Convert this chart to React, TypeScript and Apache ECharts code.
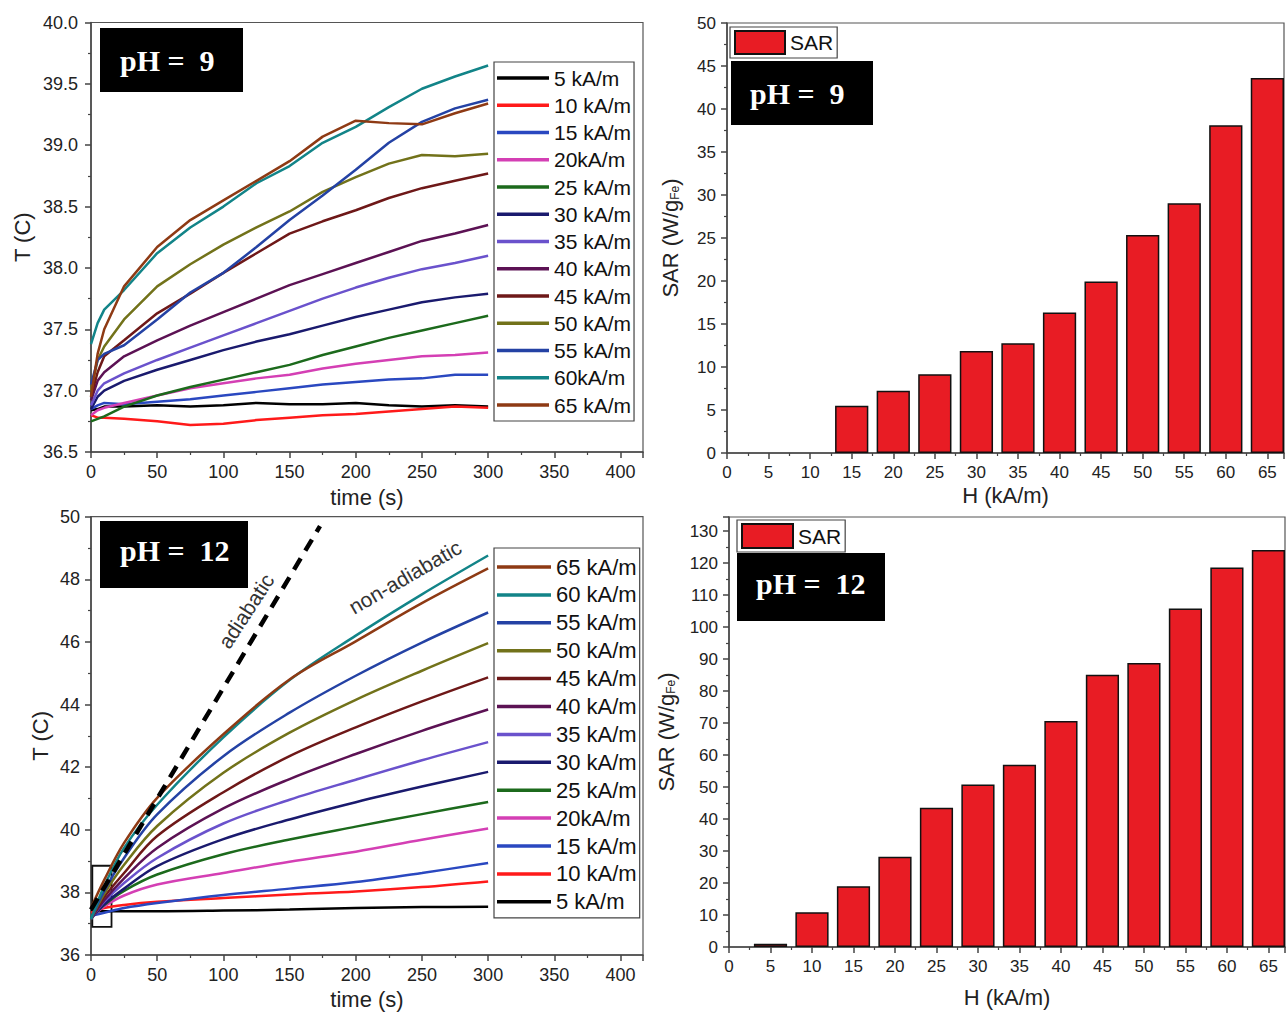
import React, { useEffect, useRef } from 'react';
import * as echarts from 'echarts';

// ---------- pH = 9 : temperature vs time ----------
const TIME_PH9 = [0, 5, 10, 25, 50, 75, 100, 125, 150, 175, 200, 225, 250, 275, 300];
const NAMES_PH9 = ['5 kA/m', '10 kA/m', '15 kA/m', '20kA/m', '25 kA/m', '30 kA/m', '35 kA/m', '40 kA/m', '45 kA/m', '50 kA/m', '55 kA/m', '60kA/m', '65 kA/m'];
const PH9_05 = [36.84, 36.85, 36.87, 36.87, 36.88, 36.87, 36.88, 36.90, 36.89, 36.89, 36.90, 36.88, 36.87, 36.88, 36.87];
const PH9_10 = [36.80, 36.78, 36.78, 36.77, 36.75, 36.72, 36.73, 36.76, 36.78, 36.80, 36.81, 36.83, 36.85, 36.87, 36.86];
const PH9_15 = [36.85, 36.88, 36.90, 36.89, 36.91, 36.93, 36.96, 36.99, 37.02, 37.05, 37.07, 37.09, 37.10, 37.13, 37.13];
const PH9_20 = [36.80, 36.84, 36.86, 36.90, 36.96, 37.02, 37.06, 37.10, 37.13, 37.18, 37.22, 37.25, 37.28, 37.29, 37.31];
const PH9_25 = [36.75, 36.77, 36.79, 36.87, 36.96, 37.03, 37.09, 37.15, 37.21, 37.29, 37.36, 37.43, 37.49, 37.55, 37.61];
const PH9_30 = [36.85, 36.95, 37.00, 37.08, 37.17, 37.25, 37.33, 37.40, 37.46, 37.53, 37.60, 37.66, 37.72, 37.76, 37.79];
const PH9_35 = [36.88, 37.00, 37.06, 37.14, 37.25, 37.35, 37.45, 37.55, 37.65, 37.75, 37.84, 37.92, 37.99, 38.04, 38.10];
const PH9_40 = [36.92, 37.08, 37.15, 37.28, 37.41, 37.53, 37.64, 37.75, 37.86, 37.95, 38.04, 38.13, 38.22, 38.28, 38.35];
const PH9_45 = [36.95, 37.15, 37.28, 37.41, 37.63, 37.79, 37.96, 38.12, 38.28, 38.38, 38.47, 38.57, 38.65, 38.71, 38.77];
const PH9_50 = [37.00, 37.25, 37.36, 37.58, 37.85, 38.03, 38.19, 38.33, 38.46, 38.62, 38.74, 38.85, 38.92, 38.91, 38.93];
const PH9_55 = [37.05, 37.25, 37.30, 37.37, 37.58, 37.80, 37.96, 38.17, 38.39, 38.59, 38.80, 39.02, 39.19, 39.30, 39.37];
const PH9_60 = [37.38, 37.55, 37.66, 37.82, 38.12, 38.33, 38.50, 38.69, 38.83, 39.02, 39.15, 39.31, 39.46, 39.56, 39.65];
const PH9_65 = [36.95, 37.30, 37.50, 37.85, 38.17, 38.39, 38.55, 38.71, 38.87, 39.07, 39.20, 39.18, 39.17, 39.26, 39.34];
const VALUES_PH9 = [PH9_05, PH9_10, PH9_15, PH9_20, PH9_25, PH9_30, PH9_35, PH9_40, PH9_45, PH9_50, PH9_55, PH9_60, PH9_65];

// ---------- pH = 12 : temperature vs time ----------
const TIME_PH12 = [0, 10, 25, 50, 100, 150, 200, 250, 300];
const NAMES_PH12 = ['5 kA/m', '10 kA/m', '15 kA/m', '20kA/m', '25 kA/m', '30 kA/m', '35 kA/m', '40 kA/m', '45 kA/m', '50 kA/m', '55 kA/m', '60 kA/m', '65 kA/m'];
const PH12_05 = [37.40, 37.40, 37.40, 37.40, 37.42, 37.45, 37.50, 37.53, 37.54];
const PH12_10 = [37.35, 37.50, 37.60, 37.70, 37.82, 37.93, 38.03, 38.17, 38.35];
const PH12_15 = [37.25, 37.35, 37.50, 37.66, 37.92, 38.12, 38.33, 38.62, 38.94];
const PH12_20 = [37.20, 37.55, 37.90, 38.25, 38.62, 38.98, 39.30, 39.68, 40.04];
const PH12_25 = [37.20, 37.60, 38.05, 38.57, 39.22, 39.69, 40.10, 40.50, 40.89];
const PH12_30 = [37.15, 37.62, 38.12, 38.84, 39.70, 40.33, 40.88, 41.38, 41.85];
const PH12_35 = [37.15, 37.70, 38.30, 39.10, 40.20, 40.96, 41.60, 42.22, 42.80];
const PH12_40 = [37.15, 37.75, 38.45, 39.42, 40.68, 41.62, 42.42, 43.16, 43.84];
const PH12_45 = [37.15, 37.85, 38.62, 39.80, 41.20, 42.35, 43.27, 44.10, 44.87];
const PH12_50 = [37.15, 37.95, 38.88, 40.12, 41.82, 43.10, 44.15, 45.08, 45.96];
const PH12_55 = [37.15, 38.05, 39.10, 40.49, 42.35, 43.74, 44.92, 45.98, 46.94];
const PH12_60 = [37.15, 38.20, 39.42, 40.80, 42.95, 44.78, 46.20, 47.52, 48.76];
const PH12_65 = [37.50, 38.40, 39.58, 41.02, 43.05, 44.80, 46.02, 47.24, 48.35];
const VALUES_PH12 = [PH12_05, PH12_10, PH12_15, PH12_20, PH12_25, PH12_30, PH12_35, PH12_40, PH12_45, PH12_50, PH12_55, PH12_60, PH12_65];

// adiabatic reference line (time, T) and zoom box corners
const ADIABATIC_TIME = [0, 173];
const ADIABATIC_T = [37.45, 49.7];
const ZOOM_BOX = [[1, 36.9], [15.5, 38.85]];

// ---------- SAR bars ----------
const SAR_H_PH9 = [15, 20, 25, 30, 35, 40, 45, 50, 55, 60, 65];
const SAR_PH9 = [5.5, 7.25, 9.15, 11.85, 12.75, 16.35, 19.95, 25.35, 29.05, 38.1, 43.6];
const SAR_H_PH12 = [5, 10, 15, 20, 25, 30, 35, 40, 45, 50, 55, 60, 65];
const SAR_PH12 = [1.0, 10.9, 19.0, 28.2, 43.5, 50.8, 57.0, 70.6, 85.1, 88.8, 105.8, 118.6, 124.1];

const COLORS = ['#000000', '#ff1a1a', '#2a48c0', '#d43fb4', '#1c6a1c', '#1a1a6e', '#6a52cc', '#5c1254', '#6e1818', '#72721a', '#2442a4', '#128488', '#8e3a14'];

const FONT = '"Liberation Sans", Arial, sans-serif';
const TXT = '#222';

function valueAxis(gridIndex: number, min: number, max: number, interval: number, hideMax: boolean, fontSize: number, extra: any = {}) {
  return {
    type: 'value',
    gridIndex,
    min,
    max,
    interval,
    splitLine: { show: false },
    axisLine: { show: true, onZero: false, lineStyle: { color: '#444', width: 1.5 } },
    axisTick: { show: true, inside: false, length: 6, lineStyle: { color: '#444', width: 1.5 } },
    minorTick: { show: true, splitNumber: 2, length: 3, lineStyle: { color: '#444', width: 1.2 } },
    axisLabel: { color: TXT, fontSize, fontFamily: FONT, margin: 11, showMaxLabel: !hideMax, hideOverlap: false },
    nameTextStyle: { color: TXT, fontSize: 22, fontFamily: FONT },
    nameLocation: 'middle',
    ...extra,
  };
}

const SUB_RICH = { sub: { fontSize: 12, fontFamily: FONT, color: TXT, verticalAlign: 'bottom', padding: [10, 0, 0, 0] } };

export default function App() {
  const ref = useRef<HTMLDivElement>(null);

  useEffect(() => {
    if (!ref.current) return;
    const chart = echarts.init(ref.current, undefined, { renderer: 'svg' });

    const grids = [
      { left: 91, top: 22.5, width: 552, height: 429.5 },
      { left: 727, top: 23, width: 557, height: 430 },
      { left: 91, top: 516.7, width: 552, height: 438.3 },
      { left: 729, top: 517, width: 556, height: 430 },
    ].map((g) => ({ ...g, show: true, borderColor: '#555', borderWidth: 1.2, backgroundColor: 'transparent' }));

    const lineSeries9 = NAMES_PH9.map((name, i) => ({
      name,
      type: 'line',
      xAxisIndex: 0,
      yAxisIndex: 0,
      symbol: 'none',
      lineStyle: { color: COLORS[i], width: 2.5 },
      itemStyle: { color: COLORS[i] },
      data: TIME_PH9.map((t, k) => [t, VALUES_PH9[i][k]]),
    }));

    const lineSeries12 = NAMES_PH12.map((name, i) => ({
      name,
      type: 'line',
      xAxisIndex: 2,
      yAxisIndex: 2,
      symbol: 'none',
      smooth: 0.35,
      lineStyle: { color: COLORS[i], width: 2.5 },
      itemStyle: { color: COLORS[i] },
      data: TIME_PH12.map((t, k) => [t, VALUES_PH12[i][k]]),
    }));

    const barStyle = { color: '#e81c24', borderColor: '#111', borderWidth: 1.5 };

    const lineLegend = {
      orient: 'vertical',
      left: 494,
      icon: 'rect',
      itemWidth: 52,
      itemHeight: 3.5,
      borderColor: '#444',
      borderWidth: 1.2,
      backgroundColor: '#fff',
      selectedMode: false,
    };

    const option: any = {
      animation: false,
      backgroundColor: '#fff',
      textStyle: { fontFamily: FONT },
      grid: grids,
      xAxis: [
        valueAxis(0, 0, 417, 50, true, 18, { name: 'time (s)', nameGap: 34 }),
        valueAxis(1, 0, 67, 5, true, 17, { name: 'H (kA/m)', nameGap: 31 }),
        valueAxis(2, 0, 417, 50, true, 18, { name: 'time (s)', nameGap: 33 }),
        valueAxis(3, 0, 67, 5, true, 17, { name: 'H (kA/m)', nameGap: 39 }),
      ],
      yAxis: [
        valueAxis(0, 36.5, 40, 0.5, false, 18, {
          name: 'T (C)',
          nameGap: 58,
          axisLabel: { color: TXT, fontSize: 18, fontFamily: FONT, margin: 13, showMaxLabel: true, formatter: (v: number) => v.toFixed(1) },
        }),
        valueAxis(1, 0, 50, 5, false, 17, {
          name: 'SAR (W/g{sub|Fe})',
          nameGap: 46,
          nameTextStyle: { color: TXT, fontSize: 22, fontFamily: FONT, rich: SUB_RICH },
        }),
        valueAxis(2, 36, 50, 2, false, 18, { name: 'T (C)', nameGap: 40 }),
        valueAxis(3, 0, 134.4, 10, true, 17, {
          name: 'SAR (W/g{sub|Fe})',
          nameGap: 52,
          nameTextStyle: { color: TXT, fontSize: 22, fontFamily: FONT, rich: SUB_RICH },
        }),
      ],
      legend: [
        {
          ...lineLegend,
          data: NAMES_PH9,
          top: 62,
          padding: [5, 3, 5, 3],
          itemGap: 5.25,
          textStyle: { color: '#111', fontSize: 21, lineHeight: 22, fontFamily: FONT },
        },
        {
          ...lineLegend,
          data: NAMES_PH12.slice().reverse(),
          top: 548,
          itemWidth: 54,
          padding: [8, 3, 5, 3],
          itemGap: 5.9,
          textStyle: { color: '#111', fontSize: 22, lineHeight: 22, fontFamily: FONT },
        },
        {
          data: ['SAR'],
          left: 730,
          top: 27,
          icon: 'rect',
          padding: [3, 4, 3, 4],
          itemWidth: 50,
          itemHeight: 23,
          borderColor: '#444',
          borderWidth: 1.2,
          selectedMode: false,
          textStyle: { color: '#111', fontSize: 21, fontFamily: FONT },
        },
        {
          data: ['SAR'],
          left: 737,
          top: 520,
          icon: 'rect',
          padding: [3, 4, 3, 4],
          itemWidth: 51,
          itemHeight: 24,
          borderColor: '#444',
          borderWidth: 1.2,
          selectedMode: false,
          textStyle: { color: '#111', fontSize: 21, fontFamily: FONT },
        },
      ],
      series: [
        ...lineSeries9,
        {
          name: 'adiabatic',
          type: 'line',
          xAxisIndex: 2,
          yAxisIndex: 2,
          symbol: 'none',
          z: 5,
          lineStyle: { color: '#000', width: 4.5, type: [13, 9] },
          data: ADIABATIC_TIME.map((t, k) => [t, ADIABATIC_T[k]]),
          markArea: {
            silent: true,
            itemStyle: { color: 'rgba(0,0,0,0)', borderColor: '#111', borderWidth: 1.8 },
            data: [[{ coord: ZOOM_BOX[0] }, { coord: ZOOM_BOX[1] }]],
          },
        },
        ...lineSeries12,
        {
          name: 'SAR',
          type: 'bar',
          xAxisIndex: 1,
          yAxisIndex: 1,
          barWidth: '80%',
          itemStyle: barStyle,
          data: SAR_H_PH9.map((h, k) => [h, SAR_PH9[k]]),
        },
        {
          name: 'SAR',
          type: 'bar',
          xAxisIndex: 3,
          yAxisIndex: 3,
          barWidth: '80%',
          itemStyle: barStyle,
          data: SAR_H_PH12.map((h, k) => [h, SAR_PH12[k]]),
        },
      ],
      graphic: [
        { type: 'rect', shape: { x: 100, y: 28, width: 143, height: 64 }, style: { fill: '#000' }, z: 100 },
        { type: 'text', x: 120, y: 60, z: 101, style: { text: 'pH =  9', fill: '#fff', font: 'bold 30px "Liberation Serif", "Times New Roman", serif', verticalAlign: 'middle' } },
        { type: 'rect', shape: { x: 731, y: 61, width: 142, height: 64 }, style: { fill: '#000' }, z: 100 },
        { type: 'text', x: 750, y: 93, z: 101, style: { text: 'pH =  9', fill: '#fff', font: 'bold 30px "Liberation Serif", "Times New Roman", serif', verticalAlign: 'middle' } },
        { type: 'rect', shape: { x: 100, y: 521, width: 148, height: 67 }, style: { fill: '#000' }, z: 100 },
        { type: 'text', x: 120, y: 550, z: 101, style: { text: 'pH =  12', fill: '#fff', font: 'bold 30px "Liberation Serif", "Times New Roman", serif', verticalAlign: 'middle' } },
        { type: 'rect', shape: { x: 737, y: 553, width: 148, height: 68 }, style: { fill: '#000' }, z: 100 },
        { type: 'text', x: 756, y: 583, z: 101, style: { text: 'pH =  12', fill: '#fff', font: 'bold 30px "Liberation Serif", "Times New Roman", serif', verticalAlign: 'middle' } },
        { type: 'text', x: 246, y: 611, rotation: (57 * Math.PI) / 180, z: 50, style: { text: 'adiabatic', fill: '#333', font: `21px ${FONT}`, align: 'center', verticalAlign: 'middle' } },
        { type: 'text', x: 405, y: 577, rotation: (30 * Math.PI) / 180, z: 50, style: { text: 'non-adiabatic', fill: '#333', font: `21px ${FONT}`, align: 'center', verticalAlign: 'middle' } },
      ],
    };

    chart.setOption(option);
    return () => chart.dispose();
  }, []);

  return <div ref={ref} style={{ position: 'fixed', left: 0, top: 0, width: 1286, height: 1012, background: '#fff' }} />;
}
